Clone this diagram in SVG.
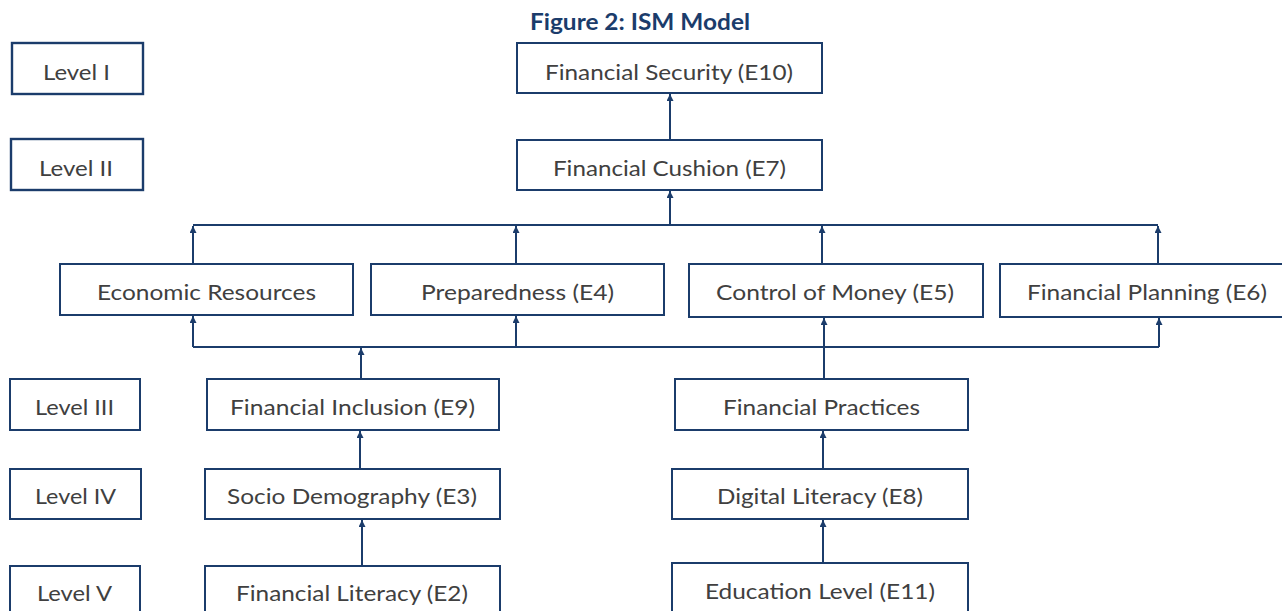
<svg xmlns="http://www.w3.org/2000/svg" width="1282" height="611" viewBox="0 0 1282 611">
  <defs>
    <style>
      .box { fill: #ffffff; stroke: #1B3C6B; stroke-width: 2; }
      .lvl { stroke-width: 2.4; }
      .lbl { font-family: Lato, "Open Sans", "Liberation Sans", sans-serif; font-size: 22px; fill: #404040; }
      .title { font-family: Lato, "Open Sans", "Liberation Sans", sans-serif; font-size: 22px; font-weight: bold; fill: #1B3C6B; }
      .wire { fill: none; stroke: #1B3C6B; stroke-width: 2; }
      .arrow { fill: none; stroke: #1B3C6B; stroke-width: 2; marker-end: url(#head); }
    </style>
    <marker id="head" markerUnits="userSpaceOnUse" markerWidth="8" markerHeight="8" refX="7" refY="3.5" orient="auto">
      <path d="M0,0 L7,3.5 L0,7 z" fill="#1B3C6B"/>
    </marker>
  </defs>
  <rect width="1282" height="611" fill="#ffffff"/>

  <text class="title" x="530" y="30" textLength="220" lengthAdjust="spacingAndGlyphs">Figure 2: ISM Model</text>

  <!-- level markers -->
  <g id="level-1"><rect class="box lvl" x="12" y="43" width="131" height="51"/><text class="lbl" x="43" y="80" textLength="67" lengthAdjust="spacingAndGlyphs">Level I</text></g>
  <g id="level-2"><rect class="box lvl" x="11" y="139" width="132" height="51"/><text class="lbl" x="39" y="176" textLength="74" lengthAdjust="spacingAndGlyphs">Level II</text></g>
  <g id="level-3"><rect class="box" x="10" y="379" width="130" height="51"/><text class="lbl" x="35" y="415" textLength="79" lengthAdjust="spacingAndGlyphs">Level III</text></g>
  <g id="level-4"><rect class="box" x="10" y="469" width="131" height="50"/><text class="lbl" x="35" y="504" textLength="81" lengthAdjust="spacingAndGlyphs">Level IV</text></g>
  <g id="level-5"><rect class="box" x="10" y="566" width="130" height="60"/><text class="lbl" x="37" y="601" textLength="75" lengthAdjust="spacingAndGlyphs">Level V</text></g>

  <!-- connectors -->
  <g id="connectors">
    <path class="arrow" d="M670,140 V94"/>
    <path class="arrow" d="M670,225 V191"/>
    <path class="wire" d="M193,225 H1158"/>
    <path class="arrow" d="M193,264 V226"/>
    <path class="arrow" d="M516,264 V226"/>
    <path class="arrow" d="M822,264 V226"/>
    <path class="arrow" d="M1158,264 V226"/>
    <path class="wire" d="M193,347 H1159"/>
    <path class="arrow" d="M193,347 V316"/>
    <path class="arrow" d="M516,347 V316"/>
    <path class="arrow" d="M1159,347 V318"/>
    <path class="arrow" d="M824,379 V318"/>
    <path class="arrow" d="M361,379 V348"/>
    <path class="arrow" d="M360,469 V431"/>
    <path class="arrow" d="M362,566 V520"/>
    <path class="arrow" d="M823,469 V431"/>
    <path class="arrow" d="M823,563 V520"/>
  </g>

  <!-- factors -->
  <g id="e10"><rect class="box" x="517" y="43" width="305" height="50"/><text class="lbl" x="545" y="80" textLength="248" lengthAdjust="spacingAndGlyphs">Financial Security (E10)</text></g>
  <g id="e7"><rect class="box" x="517" y="140" width="305" height="50"/><text class="lbl" x="553" y="176" textLength="233" lengthAdjust="spacingAndGlyphs">Financial Cushion (E7)</text></g>
  <g id="economic-resources"><rect class="box" x="60" y="264" width="293" height="51"/><text class="lbl" x="97" y="300" textLength="219" lengthAdjust="spacingAndGlyphs">Economic Resources</text></g>
  <g id="e4"><rect class="box" x="371" y="264" width="293" height="51"/><text class="lbl" x="421" y="300" textLength="193" lengthAdjust="spacingAndGlyphs">Preparedness (E4)</text></g>
  <g id="e5"><rect class="box" x="689" y="264" width="294" height="53"/><text class="lbl" x="716" y="300" textLength="238" lengthAdjust="spacingAndGlyphs">Control of Money (E5)</text></g>
  <g id="e6"><rect class="box" x="1000" y="264" width="295" height="53"/><text class="lbl" x="1027" y="300" textLength="240" lengthAdjust="spacingAndGlyphs">Financial Planning (E6)</text></g>
  <g id="e9"><rect class="box" x="207" y="379" width="292" height="51"/><text class="lbl" x="230" y="415" textLength="245" lengthAdjust="spacingAndGlyphs">Financial Inclusion (E9)</text></g>
  <g id="financial-practices"><rect class="box" x="675" y="379" width="293" height="51"/><text class="lbl" x="723" y="415" textLength="197" lengthAdjust="spacingAndGlyphs">Financial Practices</text></g>
  <g id="e3"><rect class="box" x="205" y="469" width="295" height="50"/><text class="lbl" x="227" y="504" textLength="250" lengthAdjust="spacingAndGlyphs">Socio Demography (E3)</text></g>
  <g id="e8"><rect class="box" x="672" y="469" width="296" height="50"/><text class="lbl" x="717" y="504" textLength="206" lengthAdjust="spacingAndGlyphs">Digital Literacy (E8)</text></g>
  <g id="e2"><rect class="box" x="205" y="566" width="295" height="60"/><text class="lbl" x="236" y="601" textLength="232" lengthAdjust="spacingAndGlyphs">Financial Literacy (E2)</text></g>
  <g id="e11"><rect class="box" x="672" y="563" width="296" height="60"/><text class="lbl" x="705" y="599" textLength="230" lengthAdjust="spacingAndGlyphs">Education Level (E11)</text></g>
</svg>
